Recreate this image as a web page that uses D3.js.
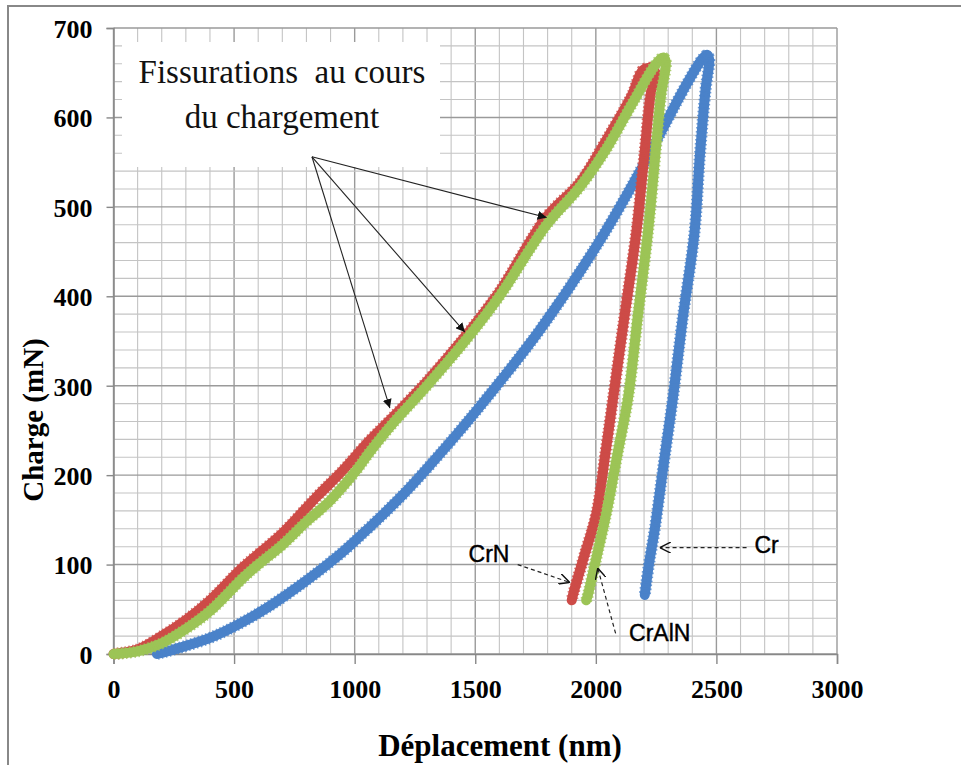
<!DOCTYPE html>
<html><head><meta charset="utf-8">
<script src="https://cdn.jsdelivr.net/npm/d3@7"></script>
<style>
html,body{margin:0;padding:0;background:#fff;}
svg{display:block;}
</style></head>
<body>
<svg id="chart" width="961" height="765"></svg>
<script>
// ---- data ----
const xTicks = [0, 500, 1000, 1500, 2000, 2500, 3000];
const yTicks = [0, 100, 200, 300, 400, 500, 600, 700];
const seriesNames = ["Cr", "CrN", "CrAlN"];
const crX = [180,262,400,510,650,814,950,1063,1200,1380,1550,1767,2016,2200,2376,2443,2462,2470,2455,2431,2409,2360,2320,2280,2244,2220,2203];
const crY = [0,6,18,32,54,85,114,142,178,232,287,362,462,548,637,666,670,665,631,556,471,375,287,210,139,100,66];
const crnX = [0,100,200,300,400,537,700,843,950,1063,1159,1300,1464,1600,1796,1933,2044,2150,2195,2230,2248,2230,2200,2169,2120,2072,2040,2003,1950,1907,1900];
const crnY = [0,5,20,38,60,97,135,176,205,239,265,305,357,405,489,527,575,625,653,655,648,630,555,474,380,287,225,158,108,68,60];
const cralnX = [0,100,200,300,400,537,600,700,800,843,900,1000,1063,1159,1300,1464,1600,1796,1933,2044,2150,2250,2280,2290,2270,2250,2217,2175,2134,2090,2044,2000,1967,1960];
const cralnY = [0,3,12,28,48,85,100,122,148,158,172,203,226,258,300,352,400,480,522,565,615,660,667,662,625,568,474,380,287,224,158,105,66,60];
const annotText = ["Fissurations  au cours", "du chargement"];
const crackOrigin = [823, 556];
const crackTips = [[1796, 488], [1457, 360], [1146, 275]];

// ---- layout ----
const svg = d3.select("#chart");
const x = d3.scaleLinear().domain([0, 3000]).range([113.5, 837]);
const y = d3.scaleLinear().domain([0, 700]).range([654, 28]);
const serif = "'Liberation Serif','Times New Roman',serif";
const sans = "'Liberation Sans',Arial,sans-serif";

// outer frame
svg.append("rect").attr("x", 8).attr("y", 6).attr("width", 960).attr("height", 770)
  .attr("fill", "none").attr("stroke", "#888").attr("stroke-width", 2);

// grid
const g = svg.append("g");
d3.range(0, 3001, 100).forEach(v => {
  const major = v % 500 === 0;
  g.append("line").attr("x1", x(v)).attr("x2", x(v)).attr("y1", y(0)).attr("y2", y(700))
    .attr("stroke", major ? "#9a9a9a" : "#c4c4c4").attr("stroke-width", major ? 1.4 : 1.1);
});
d3.range(0, 701, 20).forEach(v => {
  const major = v % 100 === 0;
  g.append("line").attr("x1", x(0)).attr("x2", x(3000)).attr("y1", y(v)).attr("y2", y(v))
    .attr("stroke", major ? "#9a9a9a" : "#c4c4c4").attr("stroke-width", major ? 1.4 : 1.1);
});

// axes
const xAxis = d3.axisBottom(x).tickValues(xTicks).tickSize(10).tickPadding(14).tickFormat(d3.format("d"));
const yAxis = d3.axisLeft(y).tickValues(yTicks).tickSize(7).tickPadding(14).tickFormat(d3.format("d"));
const gx = svg.append("g").attr("transform", `translate(0,${y(0)})`).call(xAxis);
const gy = svg.append("g").attr("transform", `translate(${x(0)},0)`).call(yAxis);
[gx, gy].forEach(a => {
  a.select(".domain").attr("stroke", "#888").attr("stroke-width", 1.5);
  a.selectAll(".tick line").attr("stroke", "#888").attr("stroke-width", 1.4);
  a.selectAll(".tick text").attr("fill", "#000").attr("font-family", serif)
    .attr("font-weight", "bold").attr("font-size", 26);
});
gx.selectAll(".tick text").attr("dy", "0.71em").attr("y", 26);
gy.selectAll(".tick text").attr("x", -21).attr("dy", "0.36em");

// annotation box
svg.append("rect").attr("x", 122).attr("y", 42).attr("width", 318).attr("height", 125).attr("fill", "#fff");
svg.append("g").selectAll("text").data(annotText).join("text")
  .attr("x", 282).attr("y", (d, i) => 83 + i * 45)
  .attr("text-anchor", "middle").attr("font-family", serif).attr("font-size", 33)
  .attr("fill", "#111").style("white-space", "pre").text(d => d);

// curves
const colors = ["#4a82c9", "#cd4b47", "#9cc456"];
const series = [
  crX.map((v, i) => [v, crY[i]]),
  crnX.map((v, i) => [v, crnY[i]]),
  cralnX.map((v, i) => [v, cralnY[i]])
];
const line = d3.line().x(d => x(d[0])).y(d => y(d[1])).curve(d3.curveCatmullRom.alpha(0.5));
series.forEach((s, i) => {
  svg.append("path").datum(s).attr("d", line).attr("fill", "none")
    .attr("stroke", colors[i]).attr("stroke-width", 10)
    .attr("stroke-linejoin", "round").attr("stroke-linecap", "round");
  svg.append("path").datum(s).attr("d", line).attr("fill", "none")
    .attr("stroke", colors[i]).attr("stroke-width", 12).attr("stroke-dasharray", "1.5 2.5")
    .attr("stroke-opacity", 0.8);
});

// arrow markers
const defs = svg.append("defs");
defs.append("marker").attr("id", "solidHead").attr("viewBox", "0 0 10 10").attr("refX", 10).attr("refY", 5)
  .attr("markerWidth", 9).attr("markerHeight", 9).attr("markerUnits", "userSpaceOnUse").attr("orient", "auto")
  .append("path").attr("d", "M0,0 L10,5 L0,10 z").attr("fill", "#111");
defs.append("marker").attr("id", "openHead").attr("viewBox", "0 0 10 10").attr("refX", 10).attr("refY", 5)
  .attr("markerWidth", 11).attr("markerHeight", 11).attr("markerUnits", "userSpaceOnUse").attr("orient", "auto")
  .append("path").attr("d", "M0,0 L10,5 L0,10").attr("fill", "none").attr("stroke", "#111").attr("stroke-width", 1.3);

crackTips.forEach(t => {
  svg.append("line").attr("x1", x(crackOrigin[0])).attr("y1", y(crackOrigin[1]))
    .attr("x2", x(t[0])).attr("y2", y(t[1])).attr("stroke", "#222").attr("stroke-width", 1.1)
    .attr("marker-end", "url(#solidHead)");
});

// series labels with dashed arrows
const labelPos = [[2708, 113], [1557, 103], [2265, 14.5]];
const arrowFrom = [[2625, 119], [1676, 100], [2082, 23]];
const arrowTo = [[2265, 119], [1892, 80], [2008, 96]];
seriesNames.forEach((n, i) => {
  svg.append("line").attr("x1", x(arrowFrom[i][0])).attr("y1", y(arrowFrom[i][1]))
    .attr("x2", x(arrowTo[i][0])).attr("y2", y(arrowTo[i][1]))
    .attr("stroke", "#222").attr("stroke-width", 1.2).attr("stroke-dasharray", "4 3")
    .attr("marker-end", "url(#openHead)");
  svg.append("text").attr("x", x(labelPos[i][0])).attr("y", y(labelPos[i][1]))
    .attr("text-anchor", "middle").attr("font-family", sans).attr("font-size", 23)
    .attr("fill", "#000").attr("stroke", "#000").attr("stroke-width", 0.4).text(n);
});

// axis titles
svg.append("text").attr("x", 500).attr("y", 756).attr("text-anchor", "middle")
  .attr("font-family", serif).attr("font-weight", "bold").attr("font-size", 31).text("Déplacement (nm)");
svg.append("text").attr("transform", "translate(43,420) rotate(-90)").attr("text-anchor", "middle")
  .attr("font-family", serif).attr("font-weight", "bold").attr("font-size", 29).text("Charge (mN)");
</script>
</body></html>
